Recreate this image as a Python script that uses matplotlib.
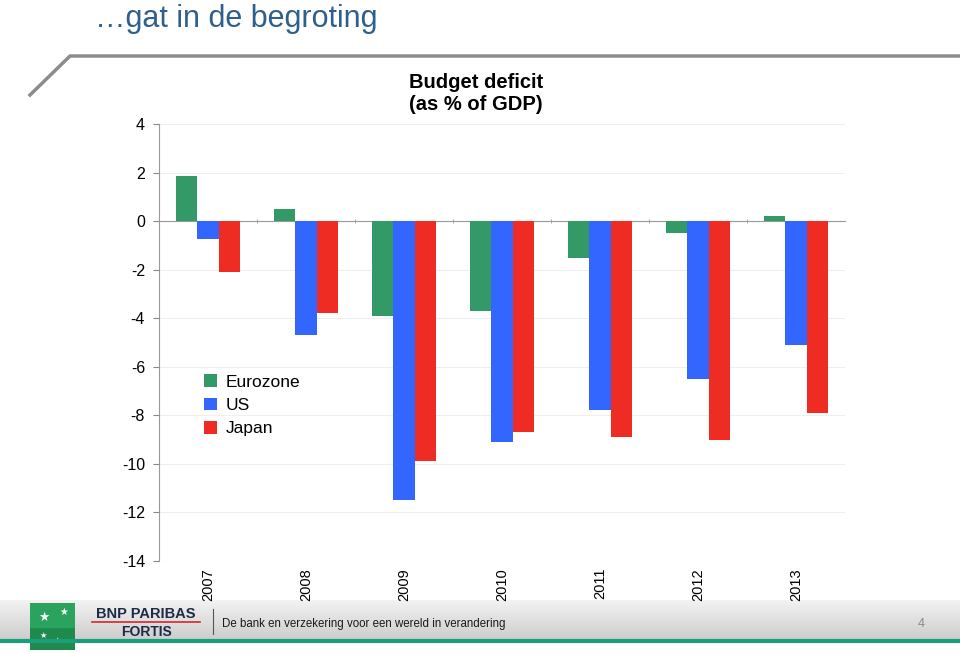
import numpy as np
import matplotlib.pyplot as plt
from matplotlib.patches import Rectangle
from matplotlib.lines import Line2D

years = ['2007', '2008', '2009', '2010', '2011', '2012', '2013']
eurozone = [1.85, 0.5, -3.9, -3.7, -1.5, -0.5, 0.2]
us = [-0.75, -4.7, -11.5, -9.1, -7.8, -6.5, -5.1]
japan = [-2.1, -3.8, -9.9, -8.7, -8.9, -9.0, -7.9]
series_names = ['Eurozone', 'US', 'Japan']
colors = ['#339966', '#3366FF', '#EE2C24']

plt.rcParams['font.family'] = ['Liberation Sans', 'DejaVu Sans']
plt.rcParams['axes.unicode_minus'] = False

fig = plt.figure(figsize=(9.6, 6.53), dpi=100)
W, H = 960, 653


def fx(px):
    return px / W


def fy(py):
    return 1 - py / H


# slide title
fig.text(fx(95), fy(19), '\u2026gat in de begroting', fontsize=22, color='#2F5F8C',
         va='center', ha='left')

# decorative grey line
fig.add_artist(Line2D([fx(30), fx(70), fx(960)], [fy(95), fy(56), fy(56)],
                      color='#8c8c8c', lw=2.5, transform=fig.transFigure))

# footer band (behind the chart)
band = fig.add_axes([0, fy(640), 1, (640 - 600) / H])
band.set_zorder(-1)
grad = np.linspace(0.95, 0.80, 50).reshape(-1, 1)
band.imshow(np.repeat(grad, 2, axis=1), cmap='gray', vmin=0, vmax=1,
            aspect='auto', extent=[0, 1, 0, 1])
band.axis('off')
fig.add_artist(Line2D([0, 1], [fy(641), fy(641)], color='#1a9e7e', lw=3,
                      transform=fig.transFigure))

# chart
ax = fig.add_axes([fx(159), fy(561), fx(845 - 159), (561 - 124) / H])
ax.patch.set_alpha(0)
x = np.arange(len(years))
w = 0.22
for i, (vals, name) in enumerate(zip([eurozone, us, japan], series_names)):
    ax.bar(x + (i - 1) * w, vals, width=w, color=colors[i], label=name, zorder=3)

ax.set_xlim(-0.5, len(years) - 0.5)
ax.set_ylim(-14, 4)
ax.set_yticks(np.arange(-14, 5, 2))
ax.yaxis.grid(True, color='#efefef', lw=0.8, zorder=0)
ax.tick_params(axis='y', labelsize=11.5, length=4, color='#888888', pad=6)
for s in ['top', 'right']:
    ax.spines[s].set_visible(False)
ax.spines['left'].set_color('#999999')
ax.spines['bottom'].set_position(('data', 0))
ax.spines['bottom'].set_color('#999999')
ax.set_xticks([])
ax.set_xticks(np.arange(0.5, len(years) - 0.5, 1), minor=True)
ax.tick_params(axis='x', which='minor', length=3, direction='inout', color='#999999')

sec = ax.secondary_xaxis(location=0)
sec.set_xticks(x)
sec.set_xticklabels(years, rotation=90, fontsize=10.5)
sec.tick_params(length=0, pad=5)
sec.spines['bottom'].set_visible(False)

ax.legend(loc='upper left', bbox_to_anchor=(0.055, 0.443), frameon=False,
          fontsize=12.5, handlelength=0.75, handleheight=0.75, handletextpad=0.5,
          labelspacing=0.45, borderaxespad=0)

fig.text(fx(476), fy(93), 'Budget deficit\n(as % of GDP)', fontsize=14.5,
         fontweight='bold', ha='center', va='center', linespacing=1.2)

# logo
logo = fig.add_axes([fx(30), fy(650), fx(45), 47 / H])
logo.add_patch(Rectangle((0, 0), 1, 1, color='#1e8a4c'))
logo.add_patch(Rectangle((0, 0.5), 1, 0.5, color='#2aa35f'))
for px_, py_, s in [(0.3, 0.7, 9), (0.75, 0.8, 7), (0.3, 0.3, 6), (0.6, 0.2, 6)]:
    logo.text(px_, py_, '\u2605', color='white', fontsize=s, ha='center', va='center',
              family=['DejaVu Sans'])
logo.set_xlim(0, 1)
logo.set_ylim(0, 1)
logo.axis('off')

fig.text(fx(146), fy(614), 'BNP PARIBAS', fontsize=10.5, fontweight='bold',
         color='#1f2a44', ha='center', va='center')
fig.add_artist(Line2D([fx(92), fx(200)], [fy(622), fy(622)], color='#d62828', lw=1.2,
                      transform=fig.transFigure))
fig.text(fx(146), fy(632), 'FORTIS', fontsize=10, fontweight='bold',
         color='#1f2a44', ha='center', va='center')
fig.add_artist(Line2D([fx(213), fx(213)], [fy(609), fy(634)], color='#555555', lw=0.8,
                      transform=fig.transFigure))
fig.text(fx(222), fy(624), 'De bank en verzekering voor een wereld in verandering',
         fontsize=8.3, color='#1a1a1a', ha='left', va='center')
fig.text(fx(921), fy(624), '4', fontsize=9, color='#888888', ha='center', va='center')

fig.savefig('out.png', dpi=100)
